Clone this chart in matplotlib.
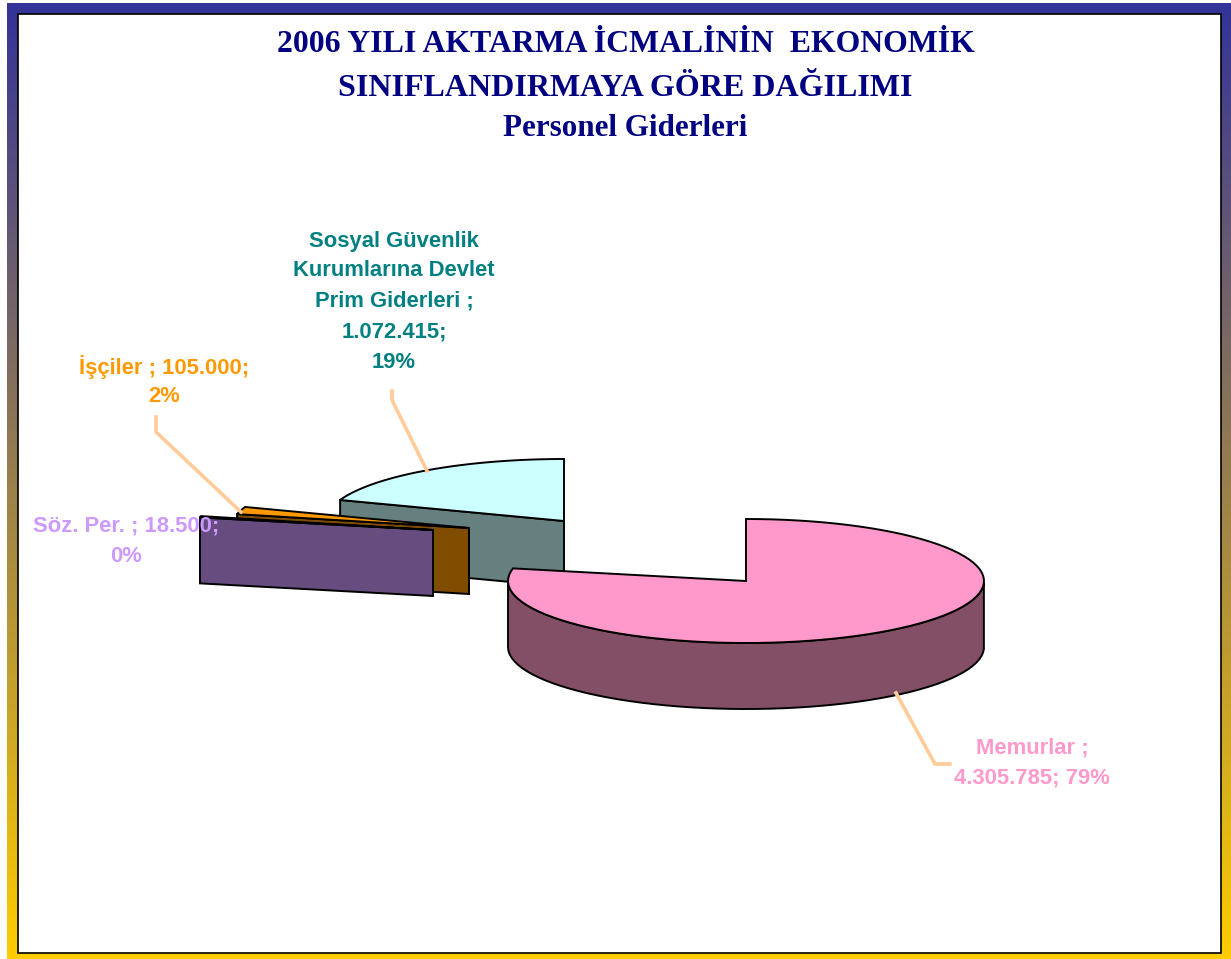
import numpy as np
import matplotlib
matplotlib.use("Agg")
import matplotlib.pyplot as plt
from matplotlib.colors import LinearSegmentedColormap
from matplotlib.patches import Polygon, Rectangle

# dilimler, saat yonunun tersine 90 dereceden baslayarak
kategoriler = ["Sosyal Güvenlik\nKurumlarına Devlet\nPrim Giderleri ;", "İşçiler ;", "Söz. Per. ;", "Memurlar ;"]
degerler = [1072415, 105000, 18500, 4305785]
degerYazi = ["1.072.415;", "105.000;", "18.500;", "4.305.785;"]
yuzdeYazi = ["19%", "2%", "0%", "79%"]

ustRenk = ["#CCFFFF", "#FF9900", "#CC99FF", "#FF99CC"]
yanRenk = ["#667F7F", "#7F4C00", "#664C7F", "#824F66"]
yaziRenk = ["#008080", "#FF9900", "#CC99FF", "#FF99CC"]

# patlatilmis dilim merkezleri (piksel)
merkezler = [(564, 521), (469, 528), (433, 530), (746, 581)]
rx, ry, derinlik = 238, 62, 66

W, H = 1231, 959
fig = plt.figure(figsize=(W / 100, H / 100), dpi=100)
ax = fig.add_axes([0, 0, 1, 1])
ax.set_xlim(0, W)
ax.set_ylim(H, 0)
ax.axis("off")

# cerceve
cmap = LinearSegmentedColormap.from_list("cerceve", ["#333399", "#FFCC00"])
ax.imshow(np.linspace(0, 1, 256).reshape(-1, 1), cmap=cmap, aspect="auto",
          extent=(7, W, H, 3), zorder=0)
ax.set_xlim(0, W)
ax.set_ylim(H, 0)
ax.add_patch(Rectangle((17.5, 13.5), 1203, 939.5, fc="white", ec="black", lw=1.2, zorder=1))


def nokta(m, aci):
    a = np.radians(aci)
    return m[0] + rx * np.cos(a), m[1] - ry * np.sin(a)


def dilim(m, a1, a2, ust, yan, z):
    # a2 kenarindaki kesit yuzu, sonra dis kenar, en son ust yuzey
    aa = np.linspace(a1, a2, 90)
    xs, ys = nokta(m, aa)
    ex, ey = nokta(m, a2)
    if a2 < 180:
        kesit = [m, (ex, ey), (ex, ey + derinlik), (m[0], m[1] + derinlik)]
        ax.add_patch(Polygon(kesit, fc=yan, ec="black", lw=1.4, zorder=z))
    gorunen = aa[(aa >= 180) & (aa <= 360)]
    if len(gorunen) > 0:
        gx, gy = nokta(m, gorunen)
        px = list(gx) + list(gx[::-1])
        py = list(gy) + list(gy[::-1] + derinlik)
        ax.add_patch(Polygon(np.column_stack([px, py]), fc=yan, ec="black", lw=1.4, zorder=z))
    ax.add_patch(Polygon(np.column_stack([[m[0]] + list(xs), [m[1]] + list(ys)]),
                         fc=ust, ec="black", lw=1.4, zorder=z + 0.1))


toplam = sum(degerler)
baslangic = 90
for i in range(len(degerler)):
    bitis = baslangic + degerler[i] / toplam * 360
    dilim(merkezler[i], baslangic, bitis, ustRenk[i], yanRenk[i], 2 + i)
    baslangic = bitis

# etiket cizgileri
cizgiler = [[(427, 471), (392, 400), (392, 391)],
            [(241, 512), (156, 432), (156, 417)],
            [(896, 693), (935, 764), (950, 764)]]
for c in cizgiler:
    ax.plot([p[0] for p in c], [p[1] for p in c], color="#FFCC99", lw=2.6, zorder=8,
            solid_joinstyle="miter")

# basliklar
baslik = ["2006 YILI AKTARMA İCMALİNİN  EKONOMİK", "SINIFLANDIRMAYA GÖRE DAĞILIMI", "Personel Giderleri"]
baslikY = [45, 88, 129]
baslikPunto = [22.9, 23, 22.4]
for s, y, p in zip(baslik, baslikY, baslikPunto):
    ax.text(625.5, y, s, family="Liberation Serif", weight="bold", fontsize=p, color="#000080",
            ha="center", va="center", zorder=10)

# etiketler
etiketler = [
    (394, [242, 271, 301, 332, 362], kategoriler[0].split("\n") + [degerYazi[0], yuzdeYazi[0]], yaziRenk[0]),
    (164, [367, 397], [kategoriler[1] + " " + degerYazi[1], yuzdeYazi[1]], yaziRenk[1]),
    (126, [526, 556], [kategoriler[2] + " " + degerYazi[2], yuzdeYazi[2]], yaziRenk[2]),
    (1032, [748, 778], [kategoriler[3], degerYazi[3] + " " + yuzdeYazi[3]], yaziRenk[3]),
]
for x, ylist, satirlar, renk in etiketler:
    for y, s in zip(ylist, satirlar):
        ax.text(x, y, s, family="Liberation Sans", weight="bold", fontsize=15.8, color=renk,
                ha="center", va="center", zorder=10)

fig.savefig("out.png", dpi=100)
